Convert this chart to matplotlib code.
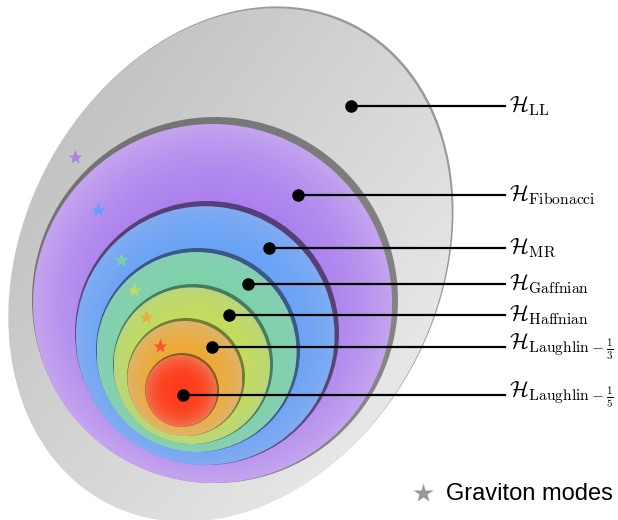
import numpy as np
import matplotlib.pyplot as plt
from matplotlib.patches import Ellipse, Circle
from matplotlib.colors import to_rgb

plt.rcParams['mathtext.fontset'] = 'cm'

# nested Hilbert spaces, outermost (LL) first
labels = [r'$\mathcal{H}_{\mathrm{LL}}$',
          r'$\mathcal{H}_{\mathrm{Fibonacci}}$',
          r'$\mathcal{H}_{\mathrm{MR}}$',
          r'$\mathcal{H}_{\mathrm{Gaffnian}}$',
          r'$\mathcal{H}_{\mathrm{Haffnian}}$',
          r'$\mathcal{H}_{\mathrm{Laughlin}-\frac{1}{3}}$',
          r'$\mathcal{H}_{\mathrm{Laughlin}-\frac{1}{5}}$']

# disc geometry (image pixel coords), Fibonacci .. Laughlin-1/5
disc_cx = [215, 207, 198, 193, 186, 182]
disc_cy = [300, 333, 350, 364, 377, 390]
disc_r = [183, 132, 102, 80, 59, 37]
ring_w = [3.5, 2.6, 2.0, 1.7, 1.5, 1.0]
ring_alpha = [0.42, 0.5, 0.45, 0.42, 0.42, 0.45]
col_in = ['#a678ee', '#5f9ef7', '#78d6a4', '#c8de52', '#f0a830', '#ff3c1c']
col_out = ['#c4a4ee', '#80acf2', '#88ceb4', '#bad67c', '#dfb46a', '#ef7450']

# LL ellipse
ll_center = (230, 265)
ll_size = (536, 416)
ll_angle = -63

# label dots
dot_x = [351, 298, 269, 248, 229, 212, 183]
dot_y = [106, 195, 248, 284, 315, 347, 395]
line_end = 505

# graviton stars
star_x = [75, 98, 121, 134, 146, 160]
star_y = [157, 210, 260, 290, 317, 346]
star_col = ['#a87ee8', '#5ea0f8', '#7ed6a0', '#c8dc60', '#f0a840', '#ff4a2a']

fig = plt.figure(figsize=(6.18, 5.2), dpi=100)
ax = fig.add_axes([0, 0, 1, 1])
ax.axis('off')


def fill_image(ax, x0, x1, y0, y1, rgb_img, z, clip):
    im = ax.imshow(rgb_img, extent=(x0, x1, y1, y0), origin='upper',
                   zorder=z, interpolation='bilinear', aspect='auto')
    im.set_clip_path(clip)


# outer gray ellipse: thin shadow edge on the upper right + linear gradient fill
shadow = Ellipse((ll_center[0] + 1.8, ll_center[1] - 1.8), ll_size[0], ll_size[1],
                 angle=ll_angle, facecolor='black', alpha=0.4, edgecolor='none', zorder=1)
ax.add_patch(shadow)
clip = Ellipse(ll_center, ll_size[0], ll_size[1], angle=ll_angle,
               transform=ax.transData, facecolor='none', edgecolor='none')
xs = np.linspace(-40, 500, 300)
ys = np.linspace(-20, 560, 300)
X, Y = np.meshgrid(xs, ys)
t = np.clip((X * 0.8 + Y * 0.6 - 120) / 480, 0, 1)
c0, c1 = np.array(to_rgb('#c2c2c2')), np.array(to_rgb('#ebebeb'))
img = (1 - t)[..., None] * c0 + t[..., None] * c1
fill_image(ax, xs[0], xs[-1], ys[0], ys[-1], img, 2, clip)

# coloured discs, each with a shadow ring on the upper right
for i in range(len(disc_r)):
    cx, cy, r, w = disc_cx[i], disc_cy[i], disc_r[i], ring_w[i]
    z = 3 + 2 * i
    ax.add_patch(Circle((cx, cy), r, facecolor='black', alpha=ring_alpha[i],
                        edgecolor='none', zorder=z))
    fcx, fcy, fr = cx - 0.7 * w, cy + w, r - w
    clip = Circle((fcx, fcy), fr, transform=ax.transData,
                  facecolor='none', edgecolor='none')
    xs = np.linspace(fcx - fr, fcx + fr, 200)
    ys = np.linspace(fcy - fr, fcy + fr, 200)
    X, Y = np.meshgrid(xs, ys)
    t = np.clip(np.hypot(X - fcx, Y - fcy) / fr, 0, 1) ** 3
    a, b = np.array(to_rgb(col_in[i])), np.array(to_rgb(col_out[i]))
    img = (1 - t)[..., None] * a + t[..., None] * b
    fill_image(ax, xs[0], xs[-1], ys[0], ys[-1], img, z + 1, clip)

# graviton stars
for x, y, c in zip(star_x, star_y, star_col):
    ax.plot(x, y, marker='*', ms=11, color=c, mec='none', alpha=0.9, zorder=20)

# leader lines, dots and labels
for x, y, lab in zip(dot_x, dot_y, labels):
    ax.plot([x, line_end], [y, y], color='black', lw=1.6, zorder=21)
    ax.plot(x, y, 'o', ms=8, color='black', zorder=22)
    ax.text(line_end + 4, y, lab, fontsize=16, va='center', ha='left', zorder=22)

# legend
ax.plot(423, 493, marker='*', ms=15, color='#999999', mec='none', zorder=22)
ax.text(446, 494, 'Graviton modes', fontsize=17, family='Liberation Sans',
        va='center', ha='left', zorder=22)

ax.set_xlim(0, 618)
ax.set_ylim(520, 0)

plt.savefig('out.png', dpi=100)
